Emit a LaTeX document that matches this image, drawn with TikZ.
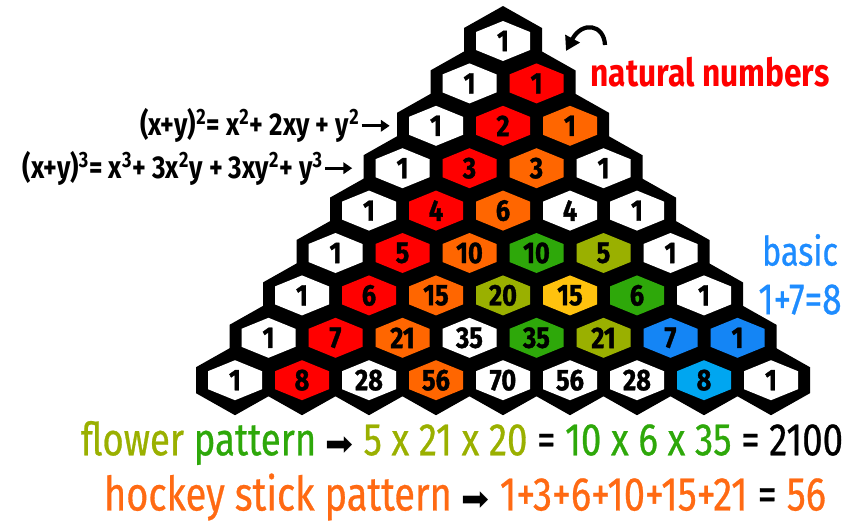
\documentclass[tikz,border=0pt]{standalone}
\usepackage{fontspec}
\setmainfont{Fira Sans}
\newfontfamily\condfont[FakeStretch=0.82]{Fira Sans}
\newfontfamily\numfont[FakeStretch=0.85,FakeBold=1.2]{Fira Sans}
\newfontfamily\medfont[FakeStretch=0.8,FakeBold=0.6]{Fira Sans}
\newfontfamily\symfont{DejaVu Sans}
\usetikzlibrary{arrows.meta,positioning}
\definecolor{nred}{HTML}{FF0000}
\definecolor{horange}{HTML}{FF6600}
\definecolor{fgreen}{HTML}{2EA80A}
\definecolor{folive}{HTML}{9AB000}
\definecolor{fyellow}{HTML}{FFC20E}
\definecolor{bblue}{HTML}{1485F5}
\definecolor{blight}{HTML}{00A6F0}
\definecolor{tblue}{HTML}{1E8CFF}
\definecolor{torange}{HTML}{FF6A13}
\newcommand{\rarr}{{\symfont\fontsize{19}{19}\selectfont ➡}}
\tikzset{
  num/.style={font=\numfont\bfseries\fontsize{17}{17}\selectfont, minimum width=1.08cm, minimum height=0.8cm, inner sep=0pt},
  eqtext/.style={font=\condfont\bfseries\fontsize{18}{18}\selectfont, inner sep=1pt},
  ptr/.style={-{Triangle[length=5pt,width=6.5pt]}, line width=1.7pt},
  bendarr/.style={-{Triangle[length=8pt,width=9pt]}, line width=2.4pt},
  bigtext/.style={font=\medfont\fontsize{26}{26}\selectfont},
}
\begin{document}
\begin{tikzpicture}[x=0.02cm,y=-0.02cm]
\useasboundingbox (0,0) rectangle (850,522);
\foreach \n in {0,...,8}
  \foreach \k in {0,...,\n}
    \fill[black] ({503+(\k-\n/2)*67},{41+\n*42.4}) +(0,-35) -- +(39,-13) -- +(39,13) -- +(0,35) -- +(-39,13) -- +(-39,-13) -- cycle;
\foreach \vals [count=\n from 0] in {
  {1/white},
  {1/white,1/nred},
  {1/white,2/nred,1/horange},
  {1/white,3/nred,3/horange,1/white},
  {1/white,4/nred,6/horange,4/white,1/white},
  {1/white,5/nred,10/horange,10/fgreen,5/folive,1/white},
  {1/white,6/nred,15/horange,20/folive,15/fyellow,6/fgreen,1/white},
  {1/white,7/nred,21/horange,35/white,35/fgreen,21/folive,7/bblue,1/bblue},
  {1/white,8/nred,28/white,56/horange,70/white,56/white,28/white,8/blight,1/white}}
  \foreach \v/\c [count=\k from 0] in \vals {
    \fill[\c] ({503+(\k-\n/2)*67},{41+\n*42.4}) +(0,-20) -- +(27,-9) -- +(27,9) -- +(0,20) -- +(-27,9) -- +(-27,-9) -- cycle;
    \node[num] (c\n-\k) at ({503+(\k-\n/2)*67},{41+\n*42.4}) {\v};
  }
\node[eqtext, left=0.94cm of c2-0] (eqsq) {(x+y)\textsuperscript{2}= x\textsuperscript{2}+ 2xy + y\textsuperscript{2}};
\node[eqtext, left=1.0cm of c3-0] (eqcube) {(x+y)\textsuperscript{3}= x\textsuperscript{3}+ 3x\textsuperscript{2}y + 3xy\textsuperscript{2}+ y\textsuperscript{3}};
\draw[ptr, shorten >=0.38cm] (eqsq) -- (c2-0);
\draw[ptr, shorten >=0.46cm] (eqcube) -- (c3-0);
\node[font=\condfont\bfseries\fontsize{22}{22}\selectfont, text=nred] (natlbl) at (710,72) {natural numbers};
\coordinate (natfrom) at (605,45);
\coordinate (natto) at (566,51);
\draw[bendarr] (natfrom) .. controls (604,24) and (582,21) .. (natto);
\node[bigtext, text=tblue, font=\medfont\fontsize{23}{23}\selectfont] (basiclbl) at (800,250) {basic};
\node[bigtext, text=tblue, font=\medfont\fontsize{25}{25}\selectfont, below=0.12cm of basiclbl] (sumlbl) {1+7=8};
\node[bigtext] (flowerlbl) at (462,443) {\textcolor{folive}{flower} \textcolor{fgreen}{pattern} \rarr{} \textcolor{folive}{5 x 21 x 20} = \textcolor{fgreen}{10 x 6 x 35} = 2100};
\node[bigtext, font=\medfont\fontsize{27}{27}\selectfont] (hockeylbl) at (465,497) {\textcolor{torange}{hockey stick pattern} \rarr{} \textcolor{torange}{1+3+6+10+15+21} = \textcolor{torange}{56}};
\end{tikzpicture}
\end{document}
